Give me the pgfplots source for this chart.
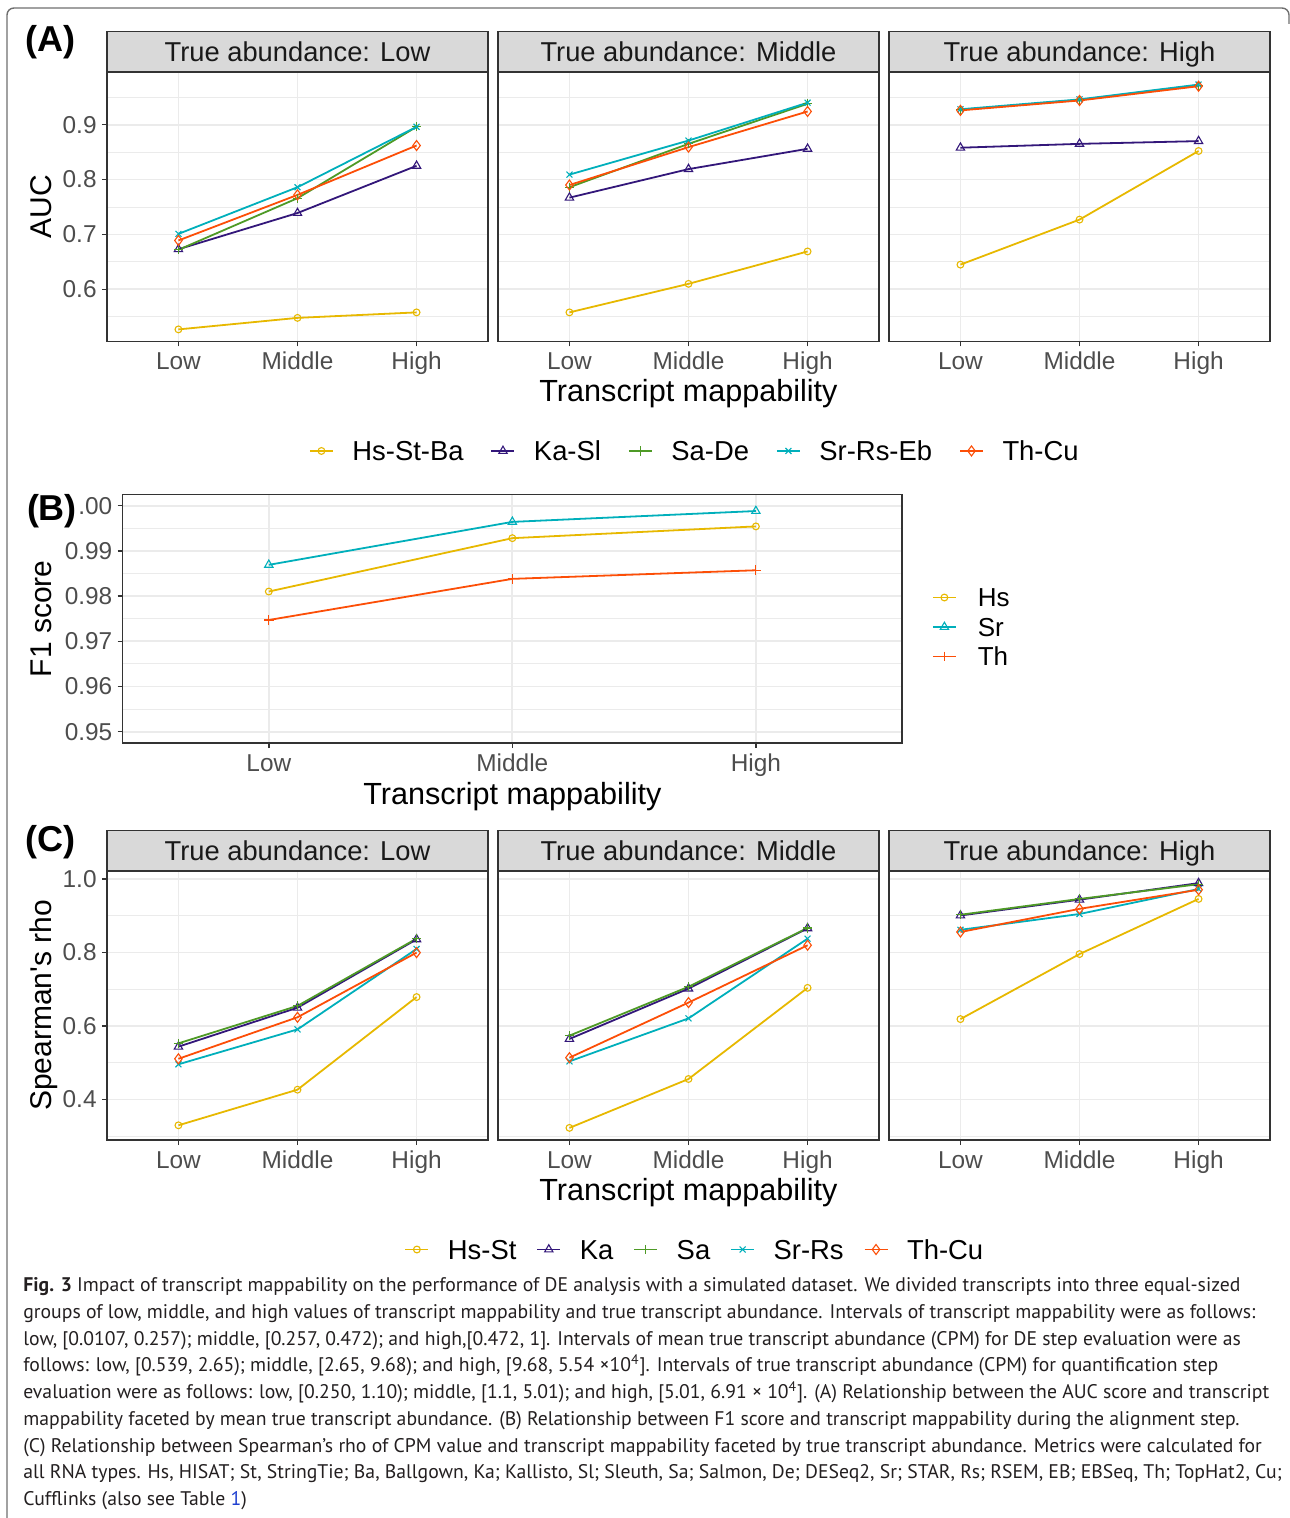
\documentclass[border=0pt]{standalone}
\usepackage{fontspec}
\setmainfont{Liberation Sans}
\newfontfamily\aposfont[Ligatures=TeXOff]{Liberation Sans}
\newfontfamily\capfont{PT Sans}
\usepackage{pgfplots}
\pgfplotsset{compat=1.18}

\definecolor{cHs}{HTML}{E7B800}
\definecolor{cKa}{HTML}{33177A}
\definecolor{cSa}{HTML}{4E9A26}
\definecolor{cSr}{HTML}{00AFBB}
\definecolor{cTh}{HTML}{FC4E07}
\definecolor{gridc}{HTML}{EBEBEB}
\definecolor{borderc}{HTML}{333333}
\definecolor{stripc}{HTML}{D9D9D9}
\definecolor{tickc}{HTML}{4D4D4D}
\definecolor{framec}{HTML}{6E6E6E}
\definecolor{capc}{HTML}{231F20}
\definecolor{linkc}{HTML}{1F3FD0}

\pgfplotsset{
  every axis title shift=0pt,
  facet/.style={
    scale only axis, width=190.5pt, height=134.5pt,
    xmin=0.4, xmax=3.6, xtick={1,2,3}, xticklabels={Low,Middle,High},
    tick align=outside, tickpos=left,
    major tick length=2.5pt, minor tick length=0pt,
    grid=both,
    major grid style={line width=0.9pt, color=gridc},
    minor grid style={line width=0.45pt, color=gridc},
    axis line style={draw=borderc, line width=0.7pt},
    tick style={draw=borderc, line width=0.7pt},
    tick label style={font=\fontsize{12.2}{14}\selectfont, color=tickc},
    /pgf/number format/assume math mode=true,
    xticklabel style={anchor=base, inner sep=0pt, yshift=-11.5pt},
    yticklabel style={anchor=east, inner sep=0pt, xshift=-2.5pt},
    title style={at={(0.5,1)}, anchor=south, yshift=0pt, draw=borderc,
      line width=0.7pt, fill=stripc, minimum width=190.5pt,
      minimum height=20pt, inner sep=0pt, text height=9.8pt, text depth=0pt,
      font=\fontsize{13.65}{16}\selectfont, text=black!90},
    legend image code/.code={\draw[#1, mark repeat=2, mark phase=2]
      plot coordinates {(0pt,0pt) (5.75pt,0pt) (11.5pt,0pt)};},
  },
  hleg/.style={legend style={draw=none, fill=none, legend columns=5,
      inner sep=0pt, outer sep=0pt, at={(0.514,-0.407)}, anchor=center,
      nodes={inner sep=0pt, text height=9.8pt, text depth=0pt,
        font=\fontsize{13.7}{16}\selectfont},
      /tikz/every odd column/.append style={column sep=9.3pt},
      /tikz/every even column/.append style={column sep=#1}}},
  aucy/.style={ymin=0.505, ymax=0.995, ytick={0.6,0.7,0.8,0.9},
    minor ytick={0.55,0.65,0.75,0.85,0.95}},
  rhoy/.style={ymin=0.29, ymax=1.022, ytick={0.4,0.6,0.8,1.0},
    minor ytick={0.3,0.5,0.7,0.9},
    yticklabel style={/pgf/number format/fixed, /pgf/number format/zerofill,
      /pgf/number format/precision=1}},
  noy/.style={yticklabels={}, ytick style={draw=none}},
  sHs/.style={color=cHs, line width=0.9pt, mark=o, mark size=1.7pt, mark options={line width=0.55pt}},
  sKa/.style={color=cKa, line width=0.9pt, mark=triangle, mark size=2.4pt, mark options={line width=0.55pt}},
  sSa/.style={color=cSa, line width=0.9pt, mark=+, mark size=2.3pt, mark options={line width=0.55pt}},
  sSr/.style={color=cSr, line width=0.9pt, mark=x, mark size=2.1pt, mark options={line width=0.55pt}},
  sTh/.style={color=cTh, line width=0.9pt, mark=diamond, mark size=2.5pt, mark options={line width=0.55pt}},
}

\begin{document}
\begin{tikzpicture}
\path[use as bounding box] (0pt,0pt) rectangle (644.5pt,-759pt);
\draw[color=framec, line width=0.7pt] (3.5pt,-760pt) -- (3.5pt,-7.5pt)
  arc[start angle=180, end angle=90, radius=3.5pt] -- (641pt,-4pt)
  arc[start angle=90, end angle=0, radius=3.5pt] -- (644.5pt,-12pt);

% ---------- (A) AUC ----------
\begin{axis}[facet, aucy, at={(53.5pt,-36.25pt)}, anchor=north west,
  title={True abundance: Low}]
\addplot[sHs] coordinates {(1,0.527) (2,0.548) (3,0.558)};
\addplot[sKa] coordinates {(1,0.673) (2,0.739) (3,0.825)};
\addplot[sSa] coordinates {(1,0.672) (2,0.766) (3,0.896)};
\addplot[sSr] coordinates {(1,0.701) (2,0.786) (3,0.896)};
\addplot[sTh] coordinates {(1,0.689) (2,0.772) (3,0.862)};
\end{axis}
\begin{axis}[facet, aucy, noy, hleg=13.5pt, at={(249pt,-36.25pt)}, anchor=north west,
  title={True abundance: Middle}]
\addplot[sHs] coordinates {(1,0.558) (2,0.610) (3,0.669)};
\addlegendentry{Hs-St-Ba}
\addplot[sKa] coordinates {(1,0.767) (2,0.819) (3,0.856)};
\addlegendentry{Ka-Sl}
\addplot[sSa] coordinates {(1,0.786) (2,0.865) (3,0.938)};
\addlegendentry{Sa-De}
\addplot[sSr] coordinates {(1,0.809) (2,0.871) (3,0.940)};
\addlegendentry{Sr-Rs-Eb}
\addplot[sTh] coordinates {(1,0.790) (2,0.859) (3,0.924)};
\addlegendentry{Th-Cu}
\end{axis}
\begin{axis}[facet, aucy, noy, at={(444.5pt,-36.25pt)}, anchor=north west,
  title={True abundance: High}]
\addplot[sHs] coordinates {(1,0.645) (2,0.727) (3,0.852)};
\addplot[sKa] coordinates {(1,0.858) (2,0.865) (3,0.870)};
\addplot[sSa] coordinates {(1,0.927) (2,0.945) (3,0.972)};
\addplot[sSr] coordinates {(1,0.928) (2,0.946) (3,0.973)};
\addplot[sTh] coordinates {(1,0.926) (2,0.944) (3,0.970)};
\end{axis}

% ---------- (B) F1 score ----------
\begin{axis}[facet, width=389.65pt, height=124.35pt,
  at={(61.35pt,-247.15pt)}, anchor=north west,
  ymin=0.9475, ymax=1.0025, ytick={0.95,0.96,0.97,0.98,0.99,1.00},
  minor ytick={0.955,0.965,0.975,0.985,0.995},
  yticklabel style={/pgf/number format/fixed, /pgf/number format/zerofill,
    /pgf/number format/precision=2},
  legend style={draw=none, fill=none, legend columns=1, inner sep=0pt,
    outer sep=0pt, at={(1.0385,0.4664)}, anchor=west, row sep=5.45pt,
    nodes={inner sep=0pt, text height=9.3pt, text depth=0pt,
      font=\fontsize{13}{15}\selectfont},
    /tikz/every odd column/.append style={column sep=10.5pt}},
  legend cell align=left]
\addplot[sHs] coordinates {(1,0.9810) (2,0.9928) (3,0.9954)};
\addlegendentry{Hs}
\addplot[sSr, mark=triangle, mark size=2.4pt] coordinates {(1,0.9869) (2,0.9964) (3,0.9988)};
\addlegendentry{Sr}
\addplot[color=cTh, line width=0.9pt, mark=+, mark size=2.4pt, mark options={line width=0.55pt}]
  coordinates {(1,0.9747) (2,0.9838) (3,0.9857)};
\addlegendentry{Th}
\end{axis}

% ---------- (C) Spearman's rho ----------
\begin{axis}[facet, rhoy, at={(53.5pt,-435.5pt)}, anchor=north west,
  title={True abundance: Low}]
\addplot[sHs] coordinates {(1,0.330) (2,0.427) (3,0.679)};
\addplot[sKa] coordinates {(1,0.544) (2,0.650) (3,0.836)};
\addplot[sSa] coordinates {(1,0.553) (2,0.655) (3,0.838)};
\addplot[sSr] coordinates {(1,0.496) (2,0.591) (3,0.810)};
\addplot[sTh] coordinates {(1,0.511) (2,0.624) (3,0.800)};
\end{axis}
\begin{axis}[facet, rhoy, noy, hleg=10pt, at={(249pt,-435.5pt)}, anchor=north west,
  title={True abundance: Middle}]
\addplot[sHs] coordinates {(1,0.323) (2,0.456) (3,0.704)};
\addlegendentry{Hs-St}
\addplot[sKa] coordinates {(1,0.565) (2,0.702) (3,0.866)};
\addlegendentry{Ka}
\addplot[sSa] coordinates {(1,0.574) (2,0.707) (3,0.867)};
\addlegendentry{Sa}
\addplot[sSr] coordinates {(1,0.504) (2,0.621) (3,0.838)};
\addlegendentry{Sr-Rs}
\addplot[sTh] coordinates {(1,0.514) (2,0.664) (3,0.820)};
\addlegendentry{Th-Cu}
\end{axis}
\begin{axis}[facet, rhoy, noy, at={(444.5pt,-435.5pt)}, anchor=north west,
  title={True abundance: High}]
\addplot[sHs] coordinates {(1,0.619) (2,0.796) (3,0.946)};
\addplot[sKa] coordinates {(1,0.901) (2,0.944) (3,0.989)};
\addplot[sSa] coordinates {(1,0.903) (2,0.946) (3,0.986)};
\addplot[sSr] coordinates {(1,0.862) (2,0.905) (3,0.973)};
\addplot[sTh] coordinates {(1,0.856) (2,0.919) (3,0.971)};
\end{axis}

% ---------- labels ----------
\begin{scope}[every node/.style={inner sep=0pt}]
\node[anchor=base west, font=\bfseries\fontsize{18}{20}\selectfont] at (12.5pt,-26pt) {(A)};
\node[anchor=base west, fill=white, inner sep=0.8pt, font=\bfseries\fontsize{18}{20}\selectfont] at (12.5pt,-260pt) {(B)};
\node[anchor=base west, font=\bfseries\fontsize{18}{20}\selectfont] at (12.5pt,-425.5pt) {(C)};
\node[rotate=90, anchor=base, font=\fontsize{15}{17}\selectfont] at (25.5pt,-103.5pt) {AUC};
\node[rotate=90, anchor=base, font=\fontsize{15}{17}\selectfont] at (25.5pt,-309.4pt) {F1 score};
\node[rotate=90, anchor=base, font=\aposfont\fontsize{15}{17}\selectfont] at (25.5pt,-502.75pt) {Spearman's rho};
\node[anchor=base, font=\fontsize{15.3}{17}\selectfont] at (344.25pt,-200.5pt) {Transcript mappability};
\node[anchor=base, font=\fontsize{15.3}{17}\selectfont] at (256.2pt,-402pt) {Transcript mappability};
\node[anchor=base, font=\fontsize{15.3}{17}\selectfont] at (344.25pt,-600pt) {Transcript mappability};
\end{scope}

% ---------- caption ----------
\begin{scope}[every node/.style={inner sep=0pt, anchor=base west, text=capc,
    font=\capfont\fontsize{9.85}{12}\selectfont}]
\node at (11.5pt,-645.75pt) {\textbf{Fig. 3} Impact of transcript mappability on the performance of DE analysis with a simulated dataset. We divided transcripts into three equal-sized};
\node at (11.5pt,-659.12pt) {groups of low, middle, and high values of transcript mappability and true transcript abundance. Intervals of transcript mappability were as follows:};
\node at (11.5pt,-672.5pt) {low, {[}0.0107, 0.257); middle, {[}0.257, 0.472); and high,{[}0.472, 1{]}. Intervals of mean true transcript abundance (CPM) for DE step evaluation were as};
\node at (11.5pt,-685.87pt) {follows: low, {[}0.539, 2.65); middle, {[}2.65, 9.68); and high, {[}9.68, 5.54 ×10\textsuperscript{4}{]}. Intervals of true transcript abundance (CPM) for quantification step};
\node at (11.5pt,-699.25pt) {evaluation were as follows: low, {[}0.250, 1.10); middle, {[}1.1, 5.01); and high, {[}5.01, 6.91 × 10\textsuperscript{4}{]}. (A) Relationship between the AUC score and transcript};
\node at (11.5pt,-712.62pt) {mappability faceted by mean true transcript abundance. (B) Relationship between F1 score and transcript mappability during the alignment step.};
\node at (11.5pt,-726pt) {(C) Relationship between Spearman’s rho of CPM value and transcript mappability faceted by true transcript abundance. Metrics were calculated for};
\node at (11.5pt,-739.37pt) {all RNA types. Hs, HISAT; St, StringTie; Ba, Ballgown, Ka; Kallisto, Sl; Sleuth, Sa; Salmon, De; DESeq2, Sr; STAR, Rs; RSEM, EB; EBSeq, Th; TopHat2, Cu;};
\node at (11.5pt,-752.75pt) {Cufflinks (also see Table \textcolor{linkc}{1})};
\end{scope}
\end{tikzpicture}
\end{document}
